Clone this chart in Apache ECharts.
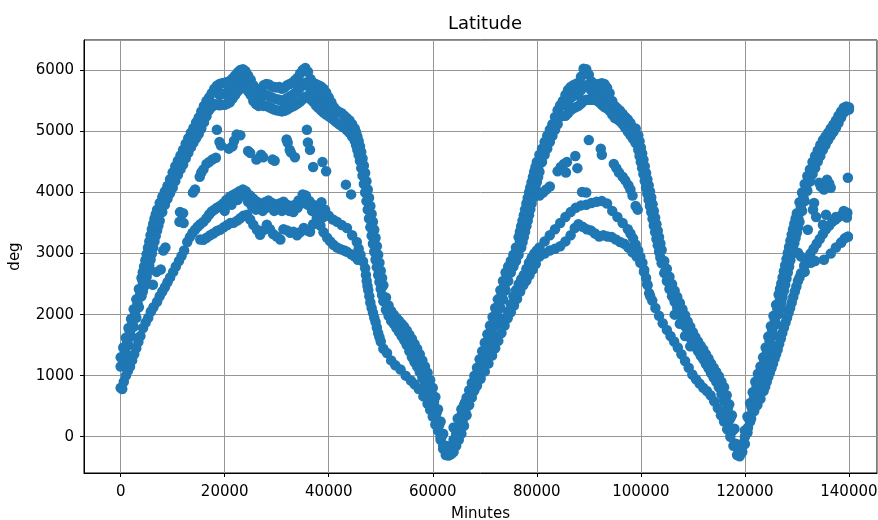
<!DOCTYPE html>
<html><head><meta charset="utf-8">
<script src="https://cdn.jsdelivr.net/npm/echarts@6/dist/echarts.min.js"></script>
<style>html,body{margin:0;padding:0;background:#fff}#c{width:878px;height:520px}</style>
</head><body><div id="c"></div>
<script>
// Main (upper) band: upper edge, middle and lower edge of the dense band
const mainUpper = [[0,1300],[500,1460],[1000,1620],[1500,1780],[2000,1930],[2500,2090],[3000,2250],[3500,2420],[4000,2600],[4500,2790],[5000,2990],[5500,3200],[6000,3400],[6500,3570],[7000,3720],[7500,3830],[8000,3930],[8500,4020],[9000,4110],[9500,4220],[10000,4330],[10500,4430],[11000,4520],[11500,4610],[12000,4700],[12500,4800],[13000,4890],[13500,4980],[14000,5060],[14500,5150],[15000,5230],[15500,5330],[16000,5420],[16500,5500],[17000,5560],[17500,5630],[18000,5700],[18500,5750],
[19000,5780],[19500,5790],[20000,5800],[20500,5810],[21000,5830],[21500,5870],[22000,5920],[22500,5970],[23000,6010],[23500,6020],[24000,5990],[24500,5920],[25000,5850],[25500,5760],[26000,5700],[26500,5660],[27000,5700],[27500,5760],[28000,5780],[28500,5770],[29000,5740],[29500,5730],[30000,5720],[30500,5730],[31000,5700],[31500,5720],[32000,5760],[32500,5780],[33000,5800],[33500,5840],[34000,5880],[34500,5950],[35000,6010],[35500,6040],[36000,5980],[36500,5860],[37000,5800],[37500,5780],[38000,5760],[38500,5740],[39000,5700],[39500,5640],[40000,5560],[40500,5480],[41000,5400],[41500,5350],[42000,5320],[42500,5300],[43000,5260],[43500,5220],[44000,5180],[44500,5120],
[45000,5050],[45500,4920],[46000,4760],[46500,4560],[47000,4320],[47500,4050],[48000,3780],[48500,3520],[49000,3260],[49500,2980],[50000,2720],[50500,2480],[51000,2280],[51500,2150],[52000,2060],[52500,2000],[53000,1950],[53500,1900],[54000,1850],[54500,1800],[55000,1740],[55500,1670],[56000,1600],[56500,1520],[57000,1440],[57500,1350],[58000,1250],[58500,1150],[59000,1050],[59500,930],[60000,800],[60500,650],[61000,450],[61500,250],[62000,50],[62500,-150],[63000,-250],
[63500,-150],[64000,-50],[64500,50],[65000,180],[65500,350],[66000,520],[66500,640],[67000,760],[67500,880],[68000,1000],[68500,1130],[69000,1270],[69500,1400],[70000,1540],[70500,1680],[71000,1820],[71500,1960],[72000,2110],[72500,2250],[73000,2400],[73500,2550],[74000,2690],[74500,2790],[75000,2880],[75500,2980],[76000,3100],[76500,3270],[77000,3450],[77500,3630],[78000,3820],[78500,4000],[79000,4170],[79500,4340],[80000,4500],[80500,4620],[81000,4720],[81500,4830],[82000,4930],[82500,5030],[83000,5120],[83500,5240],[84000,5350],[84500,5430],
[85000,5500],[85500,5600],[86000,5680],[86500,5730],[87000,5760],[87500,5780],[88000,5800],[88500,5900],[89000,6030],[89500,6020],[90000,5930],[90500,5820],[91000,5780],[91500,5770],[92000,5780],[92500,5790],[93000,5780],[93500,5720],[94000,5630],[94500,5500],[95000,5420],[95500,5380],[96000,5340],[96500,5290],[97000,5240],[97500,5200],[98000,5140],[98500,5060],
[99000,5050],[99500,4940],[100000,4740],[100500,4540],[101000,4320],[101500,4120],[102000,3920],[102500,3700],[103000,3480],[103500,3270],[104000,3060],[104500,2880],[105000,2750],[105500,2620],[106000,2500],[106500,2390],[107000,2290],[107500,2190],[108000,2090],[108500,1990],[109000,1890],[109500,1800],[110000,1710],[110500,1630],[111000,1560],[111500,1490],[112000,1430],[112500,1350],[113000,1280],[113500,1200],[114000,1130],[114500,1060],[115000,990],[115500,900],[116000,810],[116500,680],[117000,530],[117500,350],[118000,130],[118500,-150],[119000,-280],
[119500,-150],[120000,100],[120500,330],[121000,550],[121500,730],[122000,900],[122500,1030],[123000,1150],[123500,1300],[124000,1460],[124500,1640],[125000,1810],[125500,1980],[126000,2160],[126500,2330],[127000,2510],[127500,2710],[128000,2910],[128500,3110],[129000,3310],[129500,3490],[130000,3660],[130500,3840],[131000,4000],[131500,4140],[132000,4270],[132500,4380],[133000,4500],[133500,4600],[134000,4690],[134500,4780],[135000,4860],[135500,4920],[136000,4980],[136500,5050],[137000,5110],[137500,5180],[138000,5260],[138500,5330],[139000,5390],[139500,5410],[140000,5400]];

const mainMid = [[19000,5600],[19500,5620],[20000,5620],[20500,5640],[21000,5660],[21500,5700],[22000,5760],[22500,5820],[23000,5850],[23500,5860],[24000,5840],[24500,5780],[25000,5720],[25500,5620],[26000,5560],[26500,5540],[27000,5560],[27500,5590],[28000,5600],[28500,5580],[29000,5560],[29500,5540],[30000,5530],[30500,5520],[31000,5500],[31500,5520],[32000,5550],[32500,5570],[33000,5600],[33500,5630],[34000,5660],[34500,5720],[35000,5760],[35500,5800],[36000,5760],[36500,5680],[37000,5640],[37500,5600],[38000,5560],[38500,5540],[39000,5500],[39500,5450],[40000,5400],[40500,5330],
[85500,5430],[86000,5500],[86500,5550],[87000,5580],[87500,5600],[88000,5620],[88500,5680],[89000,5750],[89500,5760],[90000,5720],[90500,5670],[91000,5650],[91500,5640],[92000,5630],[92500,5610],[93000,5590],[93500,5560],[94000,5480]];

const mainLower = [[0,1150],[500,1250],[1000,1350],[1500,1500],[2000,1650],[2500,1800],[3000,1950],[3500,2120],[4000,2300],[4500,2460],[5000,2620],[5500,2800],[6000,3000],[6500,3200],[7000,3380],[7500,3540],[8000,3680],[8500,3800],[9000,3900],[9500,3990],[10000,4080],[10500,4190],[11000,4290],[11500,4380],[12000,4460],[12500,4560],[13000,4650],[13500,4740],[14000,4820],[14500,4890],[15000,4960],[15500,5050],[16000,5150],[16500,5250],[17000,5350],[17500,5400],[18000,5450],[18500,5440],
[19000,5430],[19500,5440],[20000,5440],[20500,5460],[21000,5480],[21500,5540],[22000,5600],[22500,5660],[23000,5700],[23500,5720],[24000,5720],[24500,5660],[25000,5600],[25500,5500],[26000,5450],[26500,5420],[27000,5430],[27500,5420],[28000,5420],[28500,5400],[29000,5380],[29500,5360],[30000,5350],[30500,5340],[31000,5330],[31500,5340],[32000,5360],[32500,5390],[33000,5410],[33500,5430],[34000,5460],[34500,5490],[35000,5530],[35500,5570],[36000,5570],[36500,5530],[37000,5490],[37500,5430],[38000,5390],[38500,5350],[39000,5310],[39500,5280],[40000,5250],[40500,5220],[41000,5190],[41500,5150],[42000,5120],[42500,5090],[43000,5060],[43500,5020],[44000,4980],[44500,4920],
[45000,4850],[45500,4700],[46000,4520],[46500,4280],[47000,4000],[47500,3720],[48000,3430],[48500,3160],[49000,2900],[49500,2650],[50000,2420],[50500,2220],[51000,2080],[51500,1980],[52000,1900],[52500,1850],[53000,1780],[53500,1720],[54000,1650],[54500,1580],[55000,1500],[55500,1400],[56000,1300],[56500,1220],[57000,1150],[57500,1060],[58000,960],[58500,860],[59000,750],[59500,640],[60000,500],[60500,330],[61000,150],[61500,-50],[62000,-200],[62500,-300],[63000,-310],
[63500,-290],[64000,-250],[64500,-150],[65000,-50],[65500,50],[66000,180],[66500,350],[67000,520],[67500,640],[68000,760],[68500,880],[69000,1000],[69500,1130],[70000,1270],[70500,1400],[71000,1540],[71500,1680],[72000,1820],[72500,1960],[73000,2110],[73500,2250],[74000,2400],[74500,2550],[75000,2690],[75500,2790],[76000,2880],[76500,2980],[77000,3100],[77500,3270],[78000,3450],[78500,3630],[79000,3820],[79500,4000],[80000,4170],[80500,4340],[81000,4500],[81500,4620],[82000,4720],[82500,4830],[83000,4930],[83500,5030],[84000,5120],[84500,5240],
[85000,5260],[85500,5260],[86000,5300],[86500,5350],[87000,5380],[87500,5400],[88000,5420],[88500,5460],[89000,5500],[89500,5520],[90000,5520],[90500,5520],[91000,5520],[91500,5510],[92000,5480],[92500,5440],[93000,5400],[93500,5380],[94000,5340],[94500,5280],[95000,5220],[95500,5200],[96000,5170],[96500,5120],[97000,5060],[97500,5000],[98000,4940],[98500,4880],
[99000,4810],[99500,4700],[100000,4500],[100500,4300],[101000,4080],[101500,3880],[102000,3680],[102500,3460],[103000,3240],[103500,3030],[104000,2840],[104500,2680],[105000,2550],[105500,2420],[106000,2300],[106500,2210],[107000,2110],[107500,2010],[108000,1910],[108500,1810],[109000,1710],[109500,1620],[110000,1550],[110500,1470],[111000,1400],[111500,1330],[112000,1270],[112500,1190],[113000,1120],[113500,1040],[114000,970],[114500,900],[115000,810],[115500,700],[116000,590],[116500,440],[117000,270],[117500,90],[118000,-130],[118500,-300],[119000,-320],
[119500,-250],[120000,-120],[120500,70],[121000,250],[121500,430],[122000,600],[122500,730],[123000,850],[123500,1000],[124000,1140],[124500,1320],[125000,1490],[125500,1660],[126000,1840],[126500,2010],[127000,2190],[127500,2390],[128000,2590],[128500,2790],[129000,2990],[129500,3170],[130000,3340],[130500,3520],[131000,3700],[131500,3860],[132000,4030],[132500,4180],[133000,4300],[133500,4400],[134000,4510],[134500,4600],[135000,4700],[135500,4780],[136000,4860],[136500,4930],[137000,4990],[137500,5060],[138000,5140],[138500,5230],[139000,5310],[139500,5350],[140000,5360]];

// Extra readings inside the steep parts of the main band
const mainFill = [[250,1290],[750,1420],[1250,1560],[1750,1715],[2250,1870],[2750,2020],[3250,2185],[3750,2360],[4250,2540],[4750,2715],[5250,2900],[5750,3100],[6250,3290],[6750,3470],[7250,3620],[7750,3745],[8250,3860],[8750,3960],[9250,4055],[9750,4155],[10250,4260],[10750,4360],[11250,4450],[11750,4540],[12250,4630],[12750,4725],[13250,4815],[13750,4900],[14250,4980],[14750,5060],[15250,5140],[15750,5240],[16250,5330],[16750,5415],
[44750,4985],[45250,4880],[45750,4725],[46250,4530],[46750,4290],[47250,4020],[47750,3745],[48250,3470],[48750,3210],[49250,2950],[49750,2690],[50250,2460],[50750,2265],[51250,2120],[51750,2020],[55250,1580],[55750,1490],[56250,1410],[56750,1330],[57250,1250],[57750,1155],[58250,1055],[58750,950],[59250,840],[59750,715],[60250,570],[60750,395],[61250,200],[61750,10],[62250,-150],[62750,-255],
[63250,-250],[63750,-185],[64250,-100],[64750,8],[65250,130],[65750,275],[66250,420],[66750,570],[67250,700],[67750,820],[68250,940],[68750,1070],[69250,1200],[69750,1335],[70250,1470],[70750,1610],[71250,1750],[71750,1890],[72250,2035],[72750,2180],[73250,2330],[73750,2470],[74250,2610],[74750,2730],[75250,2835],[75750,2940],[76250,3060],[76750,3200],[77250,3360],[77750,3545],[78250,3725],[78750,3905],[79250,4085],[79750,4250],[80250,4410],[80750,4545],[81250,4670],[81750,4775],[82250,4880],[82750,4980],[83250,5080],[83750,5185],
[98750,4950],[99250,4875],[99750,4720],[100250,4520],[100750,4310],[101250,4100],[101750,3900],[102250,3690],[102750,3470],[103250,3255],[103750,3050],[104250,2865],[104750,2715],[105250,2585],[105750,2460],[106250,2350],[106750,2250],[107250,2150],[107750,2050],[108250,1950],[108750,1850],[109250,1755],[109750,1670],[110250,1590],[110750,1515],[111250,1445],[111750,1380],[112250,1310],[112750,1235],[113250,1160],[113750,1085],[114250,1015],[114750,940],[115250,850],[115750,750],[116250,630],[116750,480],[117250,310],[117750,110],[118250,-115],[118750,-280],
[119250,-260],[119750,-100],[120250,100],[120750,300],[121250,490],[121750,665],[122250,815],[122750,940],[123250,1075],[123750,1225],[124250,1390],[124750,1565],[125250,1735],[125750,1910],[126250,2085],[126750,2260],[127250,2450],[127750,2650],[128250,2850],[128750,3050],[129250,3240],[129750,3415],[130250,3590],[130750,3765],[131250,3925],[131750,4075],[132250,4215],[132750,4340],[133250,4450],[133750,4550],[134250,4645],[134750,4735],[135250,4815]];

// Edge readings on the steepest stretches of the band
const edgeFill = [[4250,2695],[4750,2890],[5250,3095],[5750,3300],[6250,3485],[6750,3645],[4250,2380],[4750,2540],[5250,2710],[5750,2900],[6250,3100],[6750,3290],[7250,3460],
[45250,4990],[45750,4845],[46250,4665],[46750,4445],[47250,4185],[47750,3915],[48250,3650],[48750,3390],[49250,3120],[49750,2850],[50250,2600],
[45250,4780],[45750,4615],[46250,4400],[46750,4140],[47250,3860],[47750,3575],[48250,3295],[48750,3030],[49250,2775],[49750,2535],[50250,2320],
[76750,3360],[77250,3540],[77750,3725],[78250,3910],[78750,4085],[79250,4255],[79750,4420],[77250,3185],[77750,3360],[78250,3540],[78750,3725],[79250,3910],[79750,4085],[80250,4255],
[99750,4840],[100250,4640],[100750,4430],[101250,4220],[101750,4020],[102250,3810],[102750,3590],[103250,3375],[103750,3165],
[99750,4600],[100250,4400],[100750,4190],[101250,3980],[101750,3780],[102250,3570],[102750,3350],[103250,3135],[103750,2935],
[126750,2420],[127250,2610],[127750,2810],[128250,3010],[128750,3210],[129250,3400],[129750,3575],[126750,2100],[127250,2290],[127750,2490],[128250,2690],[128750,2890],[129250,3080],[129750,3255],[130250,3430]];

// Lower tracks
const lowUpper = [[0,800],[300,780],[600,900],[1000,1000],[1400,1080],[1800,1150],[2200,1250],[2600,1350],[3000,1450],[3400,1550],[3800,1650],[4300,1780],[4800,1870],[5300,1950],[5800,2050],[6300,2120],[7000,2210],[7500,2300],[8000,2380],[8500,2450],[9000,2530],[9500,2610],[10100,2700],[10600,2790],[11200,2880],[11700,2960],[12200,3050],[12800,3190],[13300,3270],[13800,3340],[14300,3390],[14800,3440],[15300,3480],[15900,3520],[16500,3580],[17000,3640],[17500,3690],[18000,3720],[18500,3750],[19100,3780],[19700,3820],[20300,3880],[21000,3930],[21600,3960],[22200,3990],[22800,4020],[23500,4050],[24100,4020],[24900,3950],[25500,3900],[26200,3850],[27000,3800],[27700,3840],[28400,3870],[29100,3830],[29800,3800],[30500,3820],[31300,3850],[32000,3800],[32800,3780],[33500,3800],[34200,3870],[35000,3970],[35600,3950],[36300,3860],[37000,3800],[37800,3780],[38600,3840],[39300,3720],[40000,3620],[40800,3560],[41600,3520],[42500,3470],[43500,3420],[44500,3300],[45400,3190],[45750,3080],[46100,2980],[46600,2870],[47000,2760],[47150,2650],[47300,2550],[47450,2470],[47600,2400],[47800,2300],[48000,2200],[48250,2110],[48500,2030],[48750,1950],[49000,1880],[49250,1790],[49500,1700],[49750,1630],[50000,1560],[50500,1440],[51200,1370],[52000,1250],[52800,1170],[53800,1100],[54800,1000],[55800,920],[56500,860],[57300,780],[58200,660],[59000,540],[59500,440],[60000,330],[60500,200],[61000,100],[61500,0],[62000,-150],
[73500,1850],[74000,1950],[74500,2050],[75000,2170],[75500,2300],[76000,2400],[76500,2500],[77000,2580],[77500,2650],[78000,2750],[78500,2850],[79000,2930],[79500,3000],[80000,3050],[80500,3100],[81500,3200],[82500,3300],[83500,3400],[84500,3500],[85500,3600],[86500,3680],[87500,3750],[88500,3790],[89500,3800],[90500,3830],[91500,3850],[92500,3860],[93500,3820],[94500,3700],[95500,3600],[96500,3500],[97500,3400],[98000,3330],[98500,3250],[99000,3150],[99500,3050],[99900,2950],[100300,2850],[100650,2730],[101000,2600],[101300,2480],[101600,2350],[102200,2230],[102800,2110],[103500,1980],[104200,1860],[105000,1750],[105700,1650],[106400,1560],[107100,1460],[107800,1350],[108500,1240],[109200,1130],[109900,1020],[110600,940],[111300,870],[112000,800],[112700,750],[113400,680],[114100,580],[114800,470],[115400,350],[116000,250],[116600,120],[117200,0],[117800,-150],
[119300,-200],[120000,0],[120600,150],[121200,300],[121800,420],[122400,520],[123000,620],[123600,750],[123900,820],[124200,900],[124500,980],[124800,1050],[125100,1120],[125400,1200],[125700,1280],[126000,1350],[126300,1430],[126600,1520],[126900,1610],[127200,1700],[127500,1790],[127800,1870],[128100,1950],[128400,2030],[128700,2110],[129000,2200],[129300,2290],[129600,2380],[129900,2460],[130200,2550],[130500,2610],[130800,2680],[131400,2800],[132000,2900],[132600,3000],[133200,3080],[133800,3160],[134400,3240],[135000,3320],[135600,3400],[136200,3460],[136800,3520],[137400,3560],[138000,3600],[138600,3630],[139200,3650],[139700,3670]];

// Scatter around the lower band of the first hump
const lowScatter = [[20000,3700],[21300,3800],[22500,3880],[23200,3950],[24500,3850],[25200,3780],[26000,3720],[27300,3700],[28000,3750],[29500,3700],[30200,3730],[31000,3700],[32400,3700],[33200,3680],[34000,3750],[34700,3820],[35300,3850],[36000,3800],[36800,3700],[37500,3680],[38200,3700],[39000,3600]];

const lowLower = [[15300,3230],[15900,3227],[16500,3260],[17200,3300],[17800,3330],[18500,3370],[19100,3391],[19800,3430],[20500,3470],[21100,3500],[21700,3505],[22400,3540],[23000,3580],[23600,3620],[24300,3636],[24900,3560],[25500,3472],[26200,3390],[26800,3309],[27400,3380],[28100,3472],[28700,3400],[29300,3320],[30000,3280],[30700,3230],[31300,3400],[32000,3380],[32600,3340],[33200,3358],[33900,3300],[34500,3350],[35200,3420],[35800,3380],[36400,3358],[37000,3480],[37700,3587],[38400,3460],[39000,3350],[39700,3260],[40300,3200],[40900,3145],[41600,3100],[42300,3070],[43000,3050],[43500,3030],[44300,2990],[45000,2950],[45600,2900],
[64000,150],[64800,300],[65500,450],[66200,560],[67000,650],[67800,740],[68500,840],[69200,950],[70000,1070],[70700,1200],[71400,1330],[72000,1450],[72600,1570],[73200,1700],[73800,1820],[74400,1940],[75000,2040],[75600,2150],[76200,2260],[76800,2380],[77400,2480],[78000,2560],[78600,2650],[79200,2740],[79800,2830],[80500,2950],[81500,3000],[82500,3050],[83500,3080],[84500,3120],[85500,3200],[86500,3300],[87300,3420],[88000,3480],[88800,3440],[89600,3400],[90400,3380],[91200,3330],[92000,3280],[92800,3300],[93600,3280],[94400,3270],[95200,3230],[96000,3190],[96800,3160],[97600,3100],[98400,3020],[99200,2950],[99900,2850],[100600,2700],[101200,2500],[101800,2300],
[131500,2700],[132100,2850],[132800,2900],[133500,2880],[135200,2900],[136500,3000],[137500,3100],[138500,3180],[139200,3250],[139800,3276]];

// Sparse middle dots
const midDots = [[6200,2490],[6900,2700],[7700,2740],[8200,3050],[8600,3100],[11300,3520],[11400,3680],[12000,3660],[12100,3500],[13900,4000],[14300,4050],[15200,4260],[15500,4330],[15900,4380],[16500,4470],[17000,4500],[17600,4540],[18300,4570],[18500,5030],[19000,4830],[19300,4770],[20800,4720],[21500,4760],[21800,4850],[22300,4950],[23000,4940],[24500,4680],[24900,4650],[26100,4540],[27000,4620],[27400,4580],[29200,4540],[29600,4520],[31900,4870],[32100,4820],[32500,4700],[32700,4660],[33500,4580],[35800,5030],[36000,4820],[36400,4700],[37000,4420],[38800,4500],[39500,4350],[43300,4130],[44300,3970],
[80500,3950],[81200,4000],[81800,4050],[82500,4100],[84000,4350],[84600,4420],[85200,4470],[85800,4500],[85600,4330],[87400,4600],[87800,4400],[88700,4010],[89500,4000],[90000,4860],[92300,4720],[92500,4620],[94800,4470],[95300,4400],[95800,4330],[96500,4260],[97000,4200],[97600,4120],[98000,4050],[98400,3950],[99000,3780],[99400,3720],
[106500,2000],[107500,1850],[108500,1650],[109500,1480],
[130200,3014],[130800,2950],[132100,3391],[132700,2850],[133100,3718],[133300,3830],[133700,3600],[134300,4160],[134600,4100],[135000,3472],[135200,4050],[135600,3636],[135800,4210],[136200,4150],[136500,4079],[137500,3600],[138500,3180],[139800,3276],[139800,4242],[139000,3700],[139600,3590]];

const xTitle = 'Minutes', yTitle = 'deg', chartTitle = 'Latitude';
const FONT = 'DejaVu Sans';
const chart = echarts.init(document.getElementById('c'), null, {renderer: 'canvas'});
const pts = [].concat(mainUpper, mainMid, mainLower, mainFill, edgeFill, lowUpper, lowScatter, lowLower, midDots);
chart.setOption({
  animation: false,
  backgroundColor: '#fff',
  title: {text: chartTitle, left: 480, top: 10, textAlign: 'center',
    textStyle: {fontFamily: FONT, fontSize: 18, fontWeight: 'normal', color: '#000'}},
  grid: {left: 84, right: 1, top: 40, bottom: 47, outerBoundsMode: 'none', containLabel: false,
    show: true, borderColor: '#000', borderWidth: 1, backgroundColor: 'transparent'},
  xAxis: {type: 'value', min: -7050, max: 145400, splitNumber: 7,
    name: xTitle, nameLocation: 'middle', nameGap: 34,
    nameTextStyle: {fontFamily: FONT, fontSize: 15, color: '#000'},
    axisLine: {show: true, onZero: false, lineStyle: {color: '#000', width: 1}},
    axisTick: {show: true, length: 4, lineStyle: {color: '#000'}},
    axisLabel: {margin: 12, showMinLabel: false, showMaxLabel: false, fontFamily: FONT, fontSize: 15, color: '#000', formatter: v => String(v)},
    splitLine: {show: true, lineStyle: {color: '#959595', width: 1}}},
  yAxis: {type: 'value', min: -595, max: 6500, splitNumber: 7,
    name: yTitle, nameLocation: 'middle', nameGap: 61, nameRotate: 90,
    nameTextStyle: {fontFamily: FONT, fontSize: 15, color: '#000'},
    axisLine: {show: true, onZero: false, lineStyle: {color: '#000', width: 1}},
    axisTick: {show: true, length: 4, lineStyle: {color: '#000'}},
    axisLabel: {margin: 10, showMinLabel: false, showMaxLabel: false, fontFamily: FONT, fontSize: 15, color: '#000', formatter: v => String(v)},
    splitLine: {show: true, lineStyle: {color: '#959595', width: 1}}},
  series: [{type: 'scatter', data: pts, symbol: 'circle', symbolSize: 10.5,
    itemStyle: {color: '#1f77b4', opacity: 1}, emphasis: {disabled: true}}]
});
</script></body></html>
